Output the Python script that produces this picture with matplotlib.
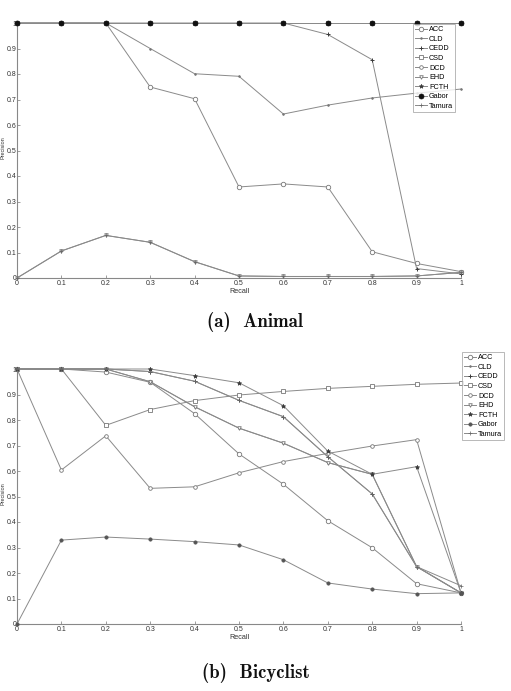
import matplotlib
matplotlib.use("Agg")
import matplotlib.pyplot as plt
import numpy as np

recall = [0, 0.1, 0.2, 0.3, 0.4, 0.5, 0.6, 0.7, 0.8, 0.9, 1.0]
tick_labels = ["0", "0.1", "0.2", "0.3", "0.4", "0.5", "0.6", "0.7", "0.8", "0.9", "1"]
names = ["ACC", "CLD", "CEDD", "CSD", "DCD", "EHD", "FCTH", "Gabor", "Tamura"]

# (a) Animal
animal_ACC = [1, 1, 1, 0.749, 0.703, 0.357, 0.369, 0.357, 0.103, 0.057, 0.025]
animal_CLD = [1, 1, 1, 0.900, 0.801, 0.791, 0.643, 0.678, 0.706, 0.725, 0.741]
animal_CEDD = [1, 1, 1, 1, 1, 1, 1, 0.955, 0.856, 0.037, 0.016]
animal_CSD = [1, 1, 1, 1, 1, 1, 1, 1, 1, 1, 1]
animal_DCD = [1, 1, 1, 1, 1, 1, 1, 1, 1, 1, 1]
animal_EHD = [0, 0.106, 0.167, 0.140, 0.064, 0.008, 0.006, 0.006, 0.006, 0.008, 0.022]
animal_FCTH = [1, 1, 1, 1, 1, 1, 1, 1, 1, 1, 1]
animal_Gabor = [1, 1, 1, 1, 1, 1, 1, 1, 1, 1, 1]
animal_Tamura = [0, 0.106, 0.167, 0.140, 0.064, 0.008, 0.006, 0.006, 0.006, 0.008, 0.022]

# (b) Bicyclist
bicy_ACC = [1, 1, 0.988, 0.948, 0.825, 0.667, 0.548, 0.405, 0.299, 0.158, 0.122]
bicy_CLD = [1, 1, 1, 0.950, 0.852, 0.768, 0.709, 0.633, 0.587, 0.225, 0.122]
bicy_CEDD = [1, 1, 1, 0.990, 0.952, 0.877, 0.813, 0.656, 0.510, 0.225, 0.122]
bicy_CSD = [1, 1, 0.779, 0.841, 0.876, 0.898, 0.912, 0.924, 0.932, 0.940, 0.945]
bicy_DCD = [1, 0.604, 0.738, 0.532, 0.538, 0.593, 0.637, 0.669, 0.698, 0.723, 0.122]
bicy_EHD = [1, 1, 1, 0.950, 0.852, 0.768, 0.709, 0.633, 0.587, 0.225, 0.122]
bicy_FCTH = [1, 1, 1, 1, 0.974, 0.946, 0.856, 0.678, 0.587, 0.617, 0.122]
bicy_Gabor = [0, 0.329, 0.341, 0.333, 0.323, 0.310, 0.252, 0.161, 0.137, 0.119, 0.122]
bicy_Tamura = [1, 1, 1, 0.990, 0.952, 0.877, 0.813, 0.656, 0.510, 0.225, 0.150]

animal = [animal_ACC, animal_CLD, animal_CEDD, animal_CSD, animal_DCD,
          animal_EHD, animal_FCTH, animal_Gabor, animal_Tamura]
bicy = [bicy_ACC, bicy_CLD, bicy_CEDD, bicy_CSD, bicy_DCD,
        bicy_EHD, bicy_FCTH, bicy_Gabor, bicy_Tamura]

LINE = "#8a8a8a"
DARK = "#3a3a3a"
styles = {
    "ACC": dict(marker="o", ms=3.2, mfc="white", mec="#777777", mew=0.6),
    "CLD": dict(marker=".", ms=2.5, mfc="#777777", mec="#777777", mew=0.5),
    "CEDD": dict(marker="+", ms=3.2, mfc=DARK, mec=DARK, mew=0.7),
    "CSD": dict(marker="s", ms=2.6, mfc="white", mec="#777777", mew=0.6),
    "DCD": dict(marker="o", ms=2.6, mfc="white", mec="#777777", mew=0.6),
    "EHD": dict(marker="v", ms=2.6, mfc="white", mec="#777777", mew=0.6),
    "FCTH": dict(marker="*", ms=3.2, mfc=DARK, mec=DARK, mew=0.5),
    "Gabor": dict(marker="o", ms=2.4, mfc="#555555", mec="#555555", mew=0.5),
    "Tamura": dict(marker="+", ms=3.2, mfc="#666666", mec="#666666", mew=0.5),
}

W, H = 511, 691
fig = plt.figure(figsize=(W / 100, H / 100), dpi=100)
fig.patch.set_facecolor("white")

TICKFONT = "Liberation Sans"
CAPFONT = ["cmb10", "DejaVu Serif"]
AXW = 461 - 17


def make_axes(top_px, bottom_px):
    ax = fig.add_axes([17 / W, 1 - bottom_px / H, AXW / W, (bottom_px - top_px) / H])
    return ax


def style_axes(ax, top_px, bottom_px):
    ax.set_xlim(0, 1)
    ax.set_ylim(0, 1)
    ax.set_xticks(recall)
    ax.set_xticklabels(tick_labels, fontsize=5.0, family=TICKFONT, color="#333333")
    ax.set_yticks(recall)
    ax.set_yticklabels(tick_labels, fontsize=5.0, family=TICKFONT, color="#333333")
    ax.tick_params(direction="in", length=2, width=0.5, color="#777777", pad=0.5)
    ax.tick_params(axis="x", pad=1.5)
    for s in ["top", "right"]:
        ax.spines[s].set_visible(False)
    for s in ["left", "bottom"]:
        ax.spines[s].set_color("#888888")
        ax.spines[s].set_linewidth(0.8)
    ax.set_xlabel("Recall", fontsize=5.2, family=TICKFONT, color="#333333", labelpad=1)
    # y label sits at the very left edge of the figure, as in the reference
    yc = 1 - (top_px + 0.49 * (bottom_px - top_px)) / H
    fig.text(0.3 / W, yc, "Precision", rotation=90, ha="left", va="center",
             fontsize=4.0, family=TICKFONT, color="#333333")


# Top axes: Animal
ax1 = make_axes(23, 278)
for name, vals in zip(names, animal):
    st = dict(styles[name])
    if name == "Gabor":
        st = dict(marker="o", ms=3.6, mfc="#111111", mec="#111111", mew=0.5)
    ax1.plot(recall, vals, color=LINE, lw=0.7, label=name, clip_on=False, zorder=3, **st)
style_axes(ax1, 23, 278)
leg1 = fig.legend([ax1.lines[i] for i in range(9)], names, loc="upper left",
                  bbox_to_anchor=(413 / W, 1 - 24 / H),
                  prop=dict(family=TICKFONT, size=5.2),
                  frameon=True, fancybox=False, edgecolor="#999999",
                  labelspacing=0.35, handlelength=1.6, handletextpad=0.3,
                  borderpad=0.3, borderaxespad=0)
leg1.get_frame().set_linewidth(0.6)
leg1.set_zorder(10)

# Bottom axes: Bicyclist
ax2 = make_axes(369, 624)
for name, vals in zip(names, bicy):
    st = styles[name]
    ax2.plot(recall, vals, color=LINE, lw=0.7, label=name, clip_on=False, zorder=3, **st)
style_axes(ax2, 369, 624)
leg2 = fig.legend([ax2.lines[i] for i in range(9)], names, loc="upper left",
                  bbox_to_anchor=(462 / W, 1 - 352 / H),
                  prop=dict(family=TICKFONT, size=5.2),
                  frameon=True, fancybox=False, edgecolor="#999999",
                  labelspacing=0.35, handlelength=1.6, handletextpad=0.3,
                  borderpad=0.3, borderaxespad=0)
leg2.get_frame().set_linewidth(0.6)

# Captions
fig.text(255 / W, 1 - 322 / H, "(a)  Animal", ha="center", va="center",
         fontsize=13.5, family=CAPFONT, color="#111111")
fig.text(256 / W, 1 - 673 / H, "(b)  Bicyclist", ha="center", va="center",
         fontsize=13.5, family=CAPFONT, color="#111111")

fig.savefig("out.png", dpi=100, facecolor="white")
